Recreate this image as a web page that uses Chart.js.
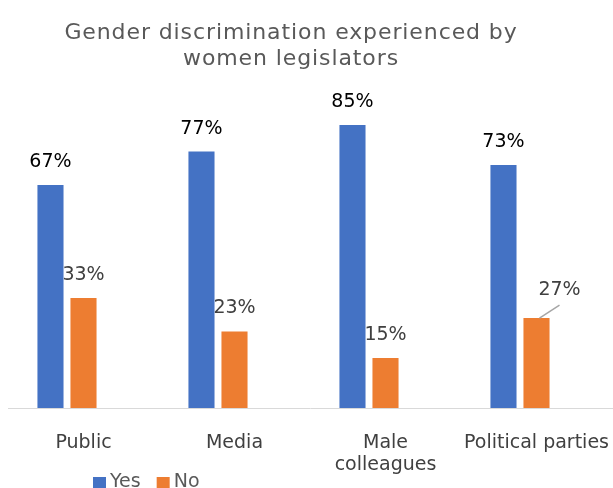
<!DOCTYPE html>
<html>
<head>
<meta charset="utf-8">
<script src="https://cdn.jsdelivr.net/npm/chart.js@4.4.0/dist/chart.umd.min.js"></script>
<style>
  html, body { margin: 0; padding: 0; background: #fff; overflow: hidden; }
  #wrap { width: 613px; height: 488px; }
</style>
</head>
<body>
<div id="wrap"><canvas id="grafico"></canvas></div>
<script>
const titulo = ['Gender discrimination experienced by', 'women legislators'];
const categorias = ['Public', 'Media', ['Male', 'colleagues'], 'Political parties'];
const sim = [67, 77, 85, 73];
const nao = [33, 23, 15, 27];
const vazio = [null, null, null, null]; // terceira série vazia (espaço reservado)
const sufixo = '%';

// título, rótulos de dados e legenda desenhados à mão
const rotulosPlugin = {
  id: 'rotulos',
  afterDraw(chart) {
    const ctx = chart.ctx;
    ctx.save();

    // título
    ctx.font = '22px "DejaVu Sans"';
    ctx.fillStyle = '#595959';
    ctx.textAlign = 'center';
    ctx.textBaseline = 'alphabetic';
    ctx.letterSpacing = '0.9px';
    titulo.forEach((linha, i) => ctx.fillText(linha, 291, 39 + i * 26));
    ctx.letterSpacing = '0px';

    // rótulos de dados
    ctx.font = '19px "DejaVu Sans"';
    [0, 1].forEach(d => {
      const meta = chart.getDatasetMeta(d);
      meta.data.forEach((bar, i) => {
        const v = chart.data.datasets[d].data[i];
        let x = bar.x, y = bar.y - 18;
        if (d === 1 && i === 3) {
          // rótulo deslocado com linha de chamada
          x = bar.x + 23; y = bar.y - 23;
          ctx.strokeStyle = '#a6a6a6';
          ctx.lineWidth = 1.5;
          ctx.beginPath();
          ctx.moveTo(bar.x + 3, bar.y);
          ctx.lineTo(bar.x + 23, bar.y - 13);
          ctx.stroke();
        }
        ctx.fillStyle = d === 0 ? '#000000' : '#404040';
        ctx.fillText(v + sufixo, x, y);
      });
    });

    // legenda
    let x = 93;
    ctx.textAlign = 'left';
    ctx.textBaseline = 'middle';
    [0, 1].forEach(d => {
      const ds = chart.data.datasets[d];
      ctx.fillStyle = ds.backgroundColor;
      ctx.fillRect(x, 477, 13, 13);
      ctx.fillStyle = '#595959';
      ctx.fillText(ds.label, x + 17, 482);
      x += 17 + ctx.measureText(ds.label).width + 16;
    });
    ctx.restore();
  }
};

new Chart(document.getElementById('grafico'), {
  type: 'bar',
  data: {
    labels: categorias,
    datasets: [
      { label: 'Yes', data: sim, backgroundColor: '#4472C4' },
      { label: 'No', data: nao, backgroundColor: '#ED7D31' },
      { label: '', data: vazio, backgroundColor: 'rgba(0,0,0,0)' }
    ]
  },
  options: {
    responsive: true,
    maintainAspectRatio: false,
    animation: false,
    layout: { padding: { left: 8, right: 1, top: 75, bottom: 0 } },
    datasets: { bar: { categoryPercentage: 0.656, barPercentage: 0.79 } },
    plugins: {
      legend: { display: false },
      tooltip: { enabled: false },
      title: { display: false }
    },
    scales: {
      x: {
        grid: { display: false },
        border: { display: true, color: '#d9d9d9', width: 1 },
        ticks: {
          color: '#404040',
          font: { family: 'DejaVu Sans', size: 19, lineHeight: 1.17 },
          padding: 16,
          maxRotation: 0,
          autoSkip: false
        },
        afterFit: s => { s.height = 80; s.paddingLeft = 0; s.paddingRight = 0; }
      },
      y: {
        display: false,
        min: 0,
        max: 100
      }
    }
  },
  plugins: [rotulosPlugin]
});
</script>
</body>
</html>
